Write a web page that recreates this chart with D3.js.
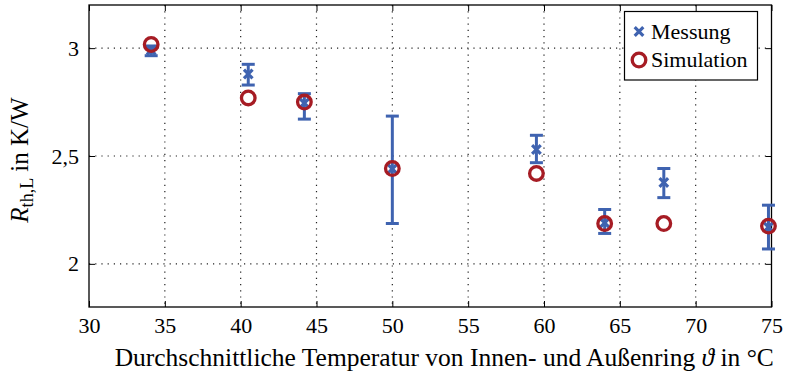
<!DOCTYPE html>
<html>
<head>
<meta charset="utf-8">
<script src="https://cdn.jsdelivr.net/npm/d3@7"></script>
<style>
  body { margin: 0; background: #fff; }
  text { font-family: "Liberation Serif", "DejaVu Serif", serif; fill: #000; }
</style>
</head>
<body>
<svg id="chart" width="786" height="377"></svg>
<script>
// temperatures (°C) and resistances (K/W)
var temps = [34.1, 40.5, 44.2, 50.0, 59.5, 64.0, 67.9, 74.8]
var messung = [2.99, 2.88, 2.745, 2.44, 2.53, 2.19, 2.377, 2.17]
var errLow = [2.965, 2.829, 2.671, 2.187, 2.469, 2.141, 2.307, 2.069]
var errHigh = [3.01, 2.925, 2.789, 2.685, 2.596, 2.252, 2.442, 2.272]
var simulation = [3.017, 2.769, 2.75, 2.442, 2.419, 2.187, 2.187, 2.175]

var xTicks = [30, 35, 40, 45, 50, 55, 60, 65, 70, 75]
var yTicks = [2, 2.5, 3]
var seriesNames = ["Messung", "Simulation"]

blue = '#3f63b0'
red = '#a61c24'

// plot box (window.top is reserved, so prefix everything)
var pLeft = 89, pRight = 771.5, pTop = 5, pBottom = 307

var svg = d3.select('#chart')

var x = d3.scaleLinear().domain([30, 75]).range([pLeft, pRight])
var y = d3.scaleLinear().domain([1.8, 3.2]).range([pBottom, pTop])

// dotted grid
svg.append('g').selectAll('line')
  .data(xTicks.slice(1, -1))
  .enter().append('line')
  .attr('x1', function(d) { return x(d) }).attr('x2', function(d) { return x(d) })
  .attr('y1', pTop).attr('y2', pBottom)
  .style('stroke', '#222').style('stroke-width', 1.2)
  .style('stroke-dasharray', '1.2,5')

svg.append('g').selectAll('line')
  .data(yTicks)
  .enter().append('line')
  .attr('x1', pLeft).attr('x2', pRight)
  .attr('y1', function(d) { return y(d) }).attr('y2', function(d) { return y(d) })
  .style('stroke', '#222').style('stroke-width', 1.2)
  .style('stroke-dasharray', '1.2,5')

// axes, ticks pointing inward on all sides
var fmt = function(d) { return String(d).replace('.', ',') }

var axB = svg.append('g').attr('transform', 'translate(0,' + pBottom + ')')
  .call(d3.axisBottom(x).tickValues(xTicks).tickSize(-6).tickPadding(10).tickFormat(fmt))
var axT = svg.append('g').attr('transform', 'translate(0,' + pTop + ')')
  .call(d3.axisTop(x).tickValues(xTicks).tickSize(-6).tickFormat(''))
var axL = svg.append('g').attr('transform', 'translate(' + pLeft + ',0)')
  .call(d3.axisLeft(y).tickValues(yTicks).tickSize(-6).tickPadding(10).tickFormat(fmt))
var axR = svg.append('g').attr('transform', 'translate(' + pRight + ',0)')
  .call(d3.axisRight(y).tickValues(yTicks).tickSize(-6).tickFormat(''))

;[axB, axT, axL, axR].forEach(function(a) {
  a.attr('font-family', null)
  a.select('.domain').remove()
  a.selectAll('.tick line').style('stroke', '#000').style('stroke-width', 1)
  a.selectAll('.tick text').style('font-family', '"Liberation Serif", serif')
    .style('font-size', '22px').style('fill', '#000')
})

svg.append('rect')
  .attr('x', pLeft).attr('y', pTop)
  .attr('width', pRight - pLeft).attr('height', pBottom - pTop)
  .style('fill', 'none').style('stroke', '#000').style('stroke-width', 1.3)

// error bars
var bars = svg.append('g')
temps.forEach(function(t, i) {
  var cx = x(t)
  bars.append('line')
    .attr('x1', cx).attr('x2', cx).attr('y1', y(errLow[i])).attr('y2', y(errHigh[i]))
    .style('stroke', blue).style('stroke-width', 3)
  ;[errLow[i], errHigh[i]].forEach(function(v) {
    bars.append('line')
      .attr('x1', cx - 6.5).attr('x2', cx + 6.5).attr('y1', y(v)).attr('y2', y(v))
      .style('stroke', blue).style('stroke-width', 3)
  })
})

function cross(sel, cx, cy) {
  var s = 4.3
  sel.append('path')
    .attr('d', 'M' + (cx - s) + ',' + (cy - s) + 'L' + (cx + s) + ',' + (cy + s) +
               'M' + (cx - s) + ',' + (cy + s) + 'L' + (cx + s) + ',' + (cy - s))
    .style('stroke', blue).style('stroke-width', 3.2).style('fill', 'none')
}

var marks = svg.append('g')
temps.forEach(function(t, i) { cross(marks, x(t), y(messung[i])) })

svg.append('g').selectAll('circle')
  .data(temps)
  .enter().append('circle')
  .attr('cx', function(d) { return x(d) })
  .attr('cy', function(d, i) { return y(simulation[i]) })
  .attr('r', 6.8)
  .style('fill', 'none').style('stroke', red).style('stroke-width', 3.3)

// legend
var lg = svg.append('g')
lg.append('rect')
  .attr('x', 624.5).attr('y', 11.5).attr('width', 133).attr('height', 68.5)
  .style('fill', '#fff').style('stroke', '#000').style('stroke-width', 1.2)
cross(lg, 639, 31.5)
lg.append('circle').attr('cx', 639).attr('cy', 60).attr('r', 6.8)
  .style('fill', 'none').style('stroke', red).style('stroke-width', 3.3)
seriesNames.forEach(function(n, i) {
  lg.append('text').attr('x', 651).attr('y', 38.5 + i * 28.5)
    .style('font-size', '22px').text(n)
})

// axis labels
svg.append('text')
  .attr('x', (pLeft + pRight) / 2 + 14).attr('y', 366)
  .attr('text-anchor', 'middle').style('font-size', '25.5px')
  .html('Durchschnittliche Temperatur von Innen- und Außenring <tspan font-style="italic">ϑ</tspan> in °C')

var yl = svg.append('text')
  .attr('transform', 'translate(28,160) rotate(-90)')
  .attr('text-anchor', 'middle').style('font-size', '25px')
yl.append('tspan').attr('font-style', 'italic').text('R')
yl.append('tspan').attr('dy', 5).style('font-size', '18px').text('th,L')
yl.append('tspan').attr('dy', -5).text(' in K/W')
</script>
</body>
</html>
